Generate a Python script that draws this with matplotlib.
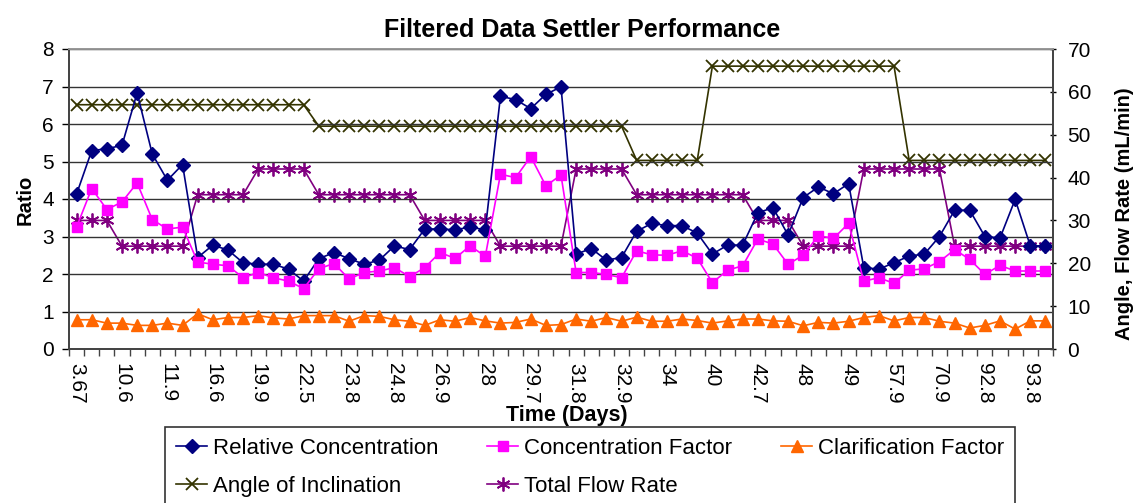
import numpy as np
import matplotlib
matplotlib.use("Agg")
from matplotlib import pyplot as plt
from matplotlib.ticker import FixedLocator

plt.rcParams['font.family'] = ['Liberation Sans', 'DejaVu Sans']

# x categories (65 samples), only every third one is labelled on the chart
tick_labels = ["3.67", "10.6", "11.9", "16.6", "19.9", "22.5", "23.8", "24.8",
               "26.9", "28", "29.7", "31.8", "32.9", "34", "40", "42.7", "48",
               "49", "57.9", "70.9", "92.8", "93.8"]

rel_conc = [4.13, 5.29, 5.34, 5.43, 6.83, 5.20, 4.50, 4.92, 2.44, 2.77, 2.64, 2.30, 2.26,
            2.26, 2.13, 1.81, 2.41, 2.57, 2.41, 2.26, 2.37, 2.75, 2.65, 3.20, 3.20, 3.18,
            3.25, 3.18, 6.74, 6.65, 6.41, 6.79, 6.99, 2.53, 2.68, 2.37, 2.44, 3.14, 3.35,
            3.29, 3.29, 3.09, 2.53, 2.77, 2.77, 3.63, 3.77, 3.04, 4.04, 4.32, 4.14,
            4.41, 2.17, 2.13, 2.30, 2.48, 2.53, 3.00, 3.70, 3.70, 3.00, 2.96, 3.99, 2.75, 2.75]

conc_factor = [3.25, 4.28, 3.72, 3.92, 4.43, 3.45, 3.20, 3.25, 2.32, 2.26, 2.22, 1.90, 2.04,
               1.90, 1.81, 1.61, 2.14, 2.28, 1.87, 2.04, 2.08, 2.17, 1.93, 2.17, 2.57, 2.42,
               2.75, 2.47, 4.66, 4.57, 5.13, 4.35, 4.64, 2.04, 2.04, 1.99, 1.90, 2.62, 2.51,
               2.50, 2.62, 2.42, 1.77, 2.10, 2.22, 2.93, 2.80, 2.26, 2.50, 3.02, 2.95,
               3.35, 1.81, 1.90, 1.75, 2.10, 2.14, 2.33, 2.65, 2.39, 1.99, 2.23, 2.08, 2.08, 2.08]

clar_factor = [0.78, 0.78, 0.69, 0.69, 0.63, 0.63, 0.69, 0.63, 0.94, 0.78, 0.84, 0.84, 0.89,
               0.83, 0.80, 0.89, 0.89, 0.89, 0.74, 0.89, 0.87, 0.78, 0.74, 0.63, 0.78, 0.74,
               0.84, 0.75, 0.69, 0.71, 0.80, 0.63, 0.65, 0.80, 0.74, 0.84, 0.74, 0.85, 0.74,
               0.74, 0.80, 0.76, 0.69, 0.75, 0.80, 0.80, 0.75, 0.74, 0.62, 0.71, 0.69,
               0.74, 0.84, 0.89, 0.75, 0.84, 0.84, 0.74, 0.69, 0.56, 0.63, 0.75, 0.53, 0.75, 0.75]

angle = [57]*16 + [52]*21 + [44]*5 + [66]*13 + [44]*10

flow = [30]*3 + [24]*5 + [36]*4 + [42]*4 + [36]*7 + [30]*5 + [24]*5 + [42]*4 \
       + [36]*8 + [30]*3 + [24]*4 + [42]*6 + [24]*7

x = np.arange(len(rel_conc))

fig = plt.figure(figsize=(11.39, 5.03), dpi=100)
ax = fig.add_axes([69/1139, 1-349/503, 984/1139, 300/503])
ax2 = ax.twinx()

ax.set_zorder(2)
ax.patch.set_visible(False)

l1, = ax.plot(x, rel_conc, color='#000080', marker='D', ms=7.5, lw=1.2, label='Relative Concentration')
l2, = ax.plot(x, conc_factor, color='#FF00FF', marker='s', ms=7.5, lw=1.2, label='Concentration Factor')
l3, = ax.plot(x, clar_factor, color='#FF6600', marker='^', ms=8.5, lw=1.2, label='Clarification Factor')
l4, = ax2.plot(x, angle, color='#333300', marker='x', ms=9, mew=1.3, lw=1.2, label='Angle of Inclination')
l5, = ax2.plot(x, flow, color='#800080', marker=(6, 2, 0), ms=10, mew=1.3, lw=1.2, label='Total Flow Rate')

ax.set_xlim(-0.5, len(x) - 0.5)
ax.set_ylim(0, 8)
ax2.set_ylim(0, 70)
ax.set_yticks(range(0, 9))
ax2.set_yticks(range(0, 71, 10))

ax.xaxis.set_major_locator(FixedLocator(np.arange(0, 3*len(tick_labels), 3)))
ax.set_xticklabels(tick_labels, rotation=-90, fontsize=15)
ax.xaxis.set_minor_locator(FixedLocator(np.arange(-0.5, len(x), 1)))
ax.tick_params(axis='x', which='major', length=0, pad=10)
ax.tick_params(axis='x', which='minor', length=5, width=1, color='#444444')
ax.tick_params(axis='y', labelsize=15, length=5, width=1, direction='out', pad=6)
ax2.tick_params(axis='y', labelsize=15, length=5, width=1, direction='inout', pad=8)

ax.grid(axis='y', color='#333333', lw=1)
ax.spines['top'].set_color('#999999')
ax2.spines['top'].set_color('#999999')
for a in (ax, ax2):
    a.spines['left'].set_color('#444444')
    a.spines['right'].set_color('#444444')
    a.spines['bottom'].set_color('#444444')
    for sp in a.spines.values():
        sp.set_linewidth(1.3)

fig.text(582/1139, 1-30/503, 'Filtered Data Settler Performance', ha='center', va='center',
         fontsize=18, fontweight='bold')
fig.text(25/1139, 1-200/503, 'Ratio', ha='center', va='center', rotation=90,
         fontsize=14.5, fontweight='bold')
fig.text(1124/1139, 1-214/503, 'Angle, Flow Rate (mL/min)', ha='center', va='center',
         rotation=90, fontsize=14.5, fontweight='bold')
fig.text(567/1139, 1-416/503, 'Time (Days)', ha='center', va='center',
         fontsize=15.5, fontweight='bold')

handles = [l1, l4, l2, l5, l3]
leg = fig.legend(handles=handles, labels=[h.get_label() for h in handles], ncol=3,
                 loc='upper left', bbox_to_anchor=(165/1139, 1-432/503, 850/1139, 0.01),
                 mode='expand', prop={'size': 16},
                 frameon=True, fancybox=False, edgecolor='black', handlelength=1.4,
                 handletextpad=0.25, borderpad=0.5, labelspacing=0.75, borderaxespad=0)
leg.get_frame().set_linewidth(1.2)

fig.savefig('out.png', dpi=100)
